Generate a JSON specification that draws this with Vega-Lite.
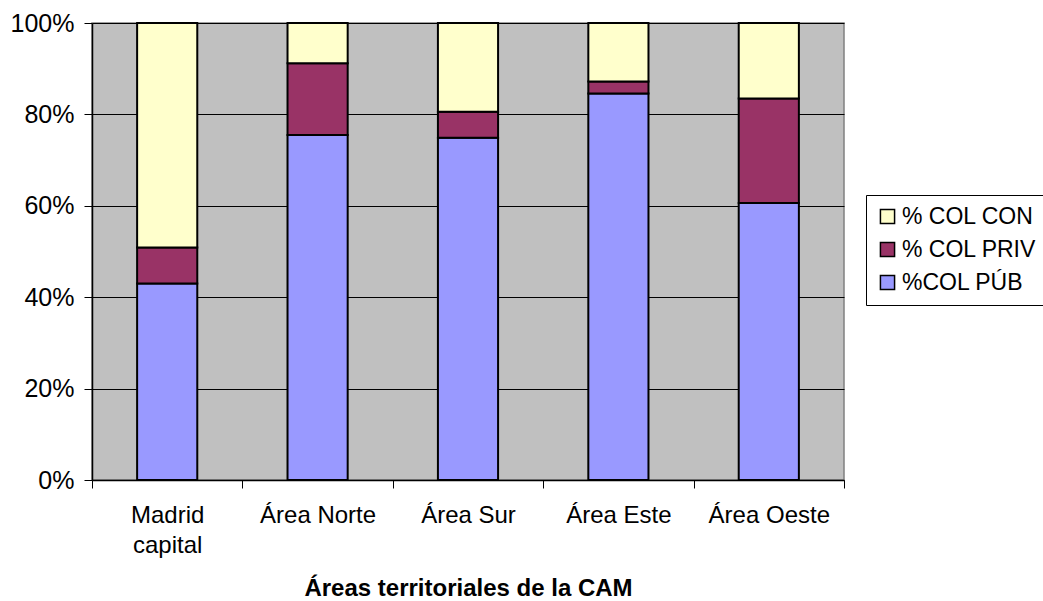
{
  "$schema": "https://vega.github.io/schema/vega-lite/v6.json",
  "autosize": "none",
  "width": 752,
  "height": 457,
  "padding": {"left": 92, "top": 23, "right": 199, "bottom": 121},
  "background": "white",
  "config": {
    "font": "Liberation Sans",
    "view": {"fill": "#C0C0C0", "stroke": "#808080", "strokeWidth": 1.5}
  },
  "data": {
    "values": [
      {"area": "Madrid capital", "serie": "%COL PÚB", "ord": 1, "valor": 0.430},
      {"area": "Madrid capital", "serie": "% COL PRIV", "ord": 2, "valor": 0.079},
      {"area": "Madrid capital", "serie": "% COL CON", "ord": 3, "valor": 0.491},
      {"area": "Área Norte", "serie": "%COL PÚB", "ord": 1, "valor": 0.755},
      {"area": "Área Norte", "serie": "% COL PRIV", "ord": 2, "valor": 0.157},
      {"area": "Área Norte", "serie": "% COL CON", "ord": 3, "valor": 0.088},
      {"area": "Área Sur", "serie": "%COL PÚB", "ord": 1, "valor": 0.749},
      {"area": "Área Sur", "serie": "% COL PRIV", "ord": 2, "valor": 0.057},
      {"area": "Área Sur", "serie": "% COL CON", "ord": 3, "valor": 0.194},
      {"area": "Área Este", "serie": "%COL PÚB", "ord": 1, "valor": 0.846},
      {"area": "Área Este", "serie": "% COL PRIV", "ord": 2, "valor": 0.026},
      {"area": "Área Este", "serie": "% COL CON", "ord": 3, "valor": 0.128},
      {"area": "Área Oeste", "serie": "%COL PÚB", "ord": 1, "valor": 0.606},
      {"area": "Área Oeste", "serie": "% COL PRIV", "ord": 2, "valor": 0.229},
      {"area": "Área Oeste", "serie": "% COL CON", "ord": 3, "valor": 0.165}
    ]
  },
  "mark": {"type": "bar", "width": {"band": 0.4}, "stroke": "black", "strokeWidth": 2},
  "encoding": {
    "x": {
      "field": "area",
      "type": "nominal",
      "sort": ["Madrid capital", "Área Norte", "Área Sur", "Área Este", "Área Oeste"],
      "scale": {"paddingInner": 0, "paddingOuter": 0},
      "axis": {
        "title": "Áreas territoriales de la CAM",
        "titleFont": "Liberation Sans",
        "titleFontSize": 24,
        "titleFontWeight": "bold",
        "titleColor": "black",
        "titlePadding": 19,
        "labelAngle": 0,
        "labelFontSize": 24,
        "labelColor": "black",
        "labelPadding": 15,
        "labelLineHeight": 30,
        "labelExpr": "datum.value == 'Madrid capital' ? ['Madrid', 'capital'] : datum.value",
        "tickBand": "extent",
        "tickSize": 8,
        "tickColor": "black",
        "tickWidth": 1,
        "domainColor": "black",
        "domainWidth": 1.5,
        "grid": false
      }
    },
    "y": {
      "field": "valor",
      "type": "quantitative",
      "stack": "zero",
      "scale": {"domain": [0, 1], "nice": false},
      "axis": {
        "title": null,
        "format": ".0%",
        "values": [0, 0.2, 0.4, 0.6, 0.8, 1],
        "labelFontSize": 25,
        "labelColor": "black",
        "labelPadding": 10,
        "tickSize": 8,
        "tickColor": "black",
        "domainColor": "black",
        "domainWidth": 1.5,
        "grid": true,
        "gridColor": "black",
        "gridWidth": 1,
        "gridOpacity": 1
      }
    },
    "color": {
      "field": "serie",
      "type": "nominal",
      "scale": {
        "domain": ["% COL CON", "% COL PRIV", "%COL PÚB"],
        "range": ["#FFFFCC", "#993366", "#9999FF"]
      },
      "legend": {
        "title": null,
        "orient": "none",
        "legendX": 774,
        "legendY": 172,
        "strokeColor": "black",
        "fillColor": "white",
        "padding": 10,
        "symbolType": "square",
        "symbolSize": 200,
        "symbolStrokeColor": "black",
        "symbolStrokeWidth": 1.5,
        "symbolOpacity": 1,
        "labelFontSize": 23,
        "labelColor": "black",
        "labelLimit": 300,
        "labelOffset": 3,
        "rowPadding": 9
      }
    },
    "order": {"field": "ord", "type": "quantitative", "sort": "ascending"}
  }
}
